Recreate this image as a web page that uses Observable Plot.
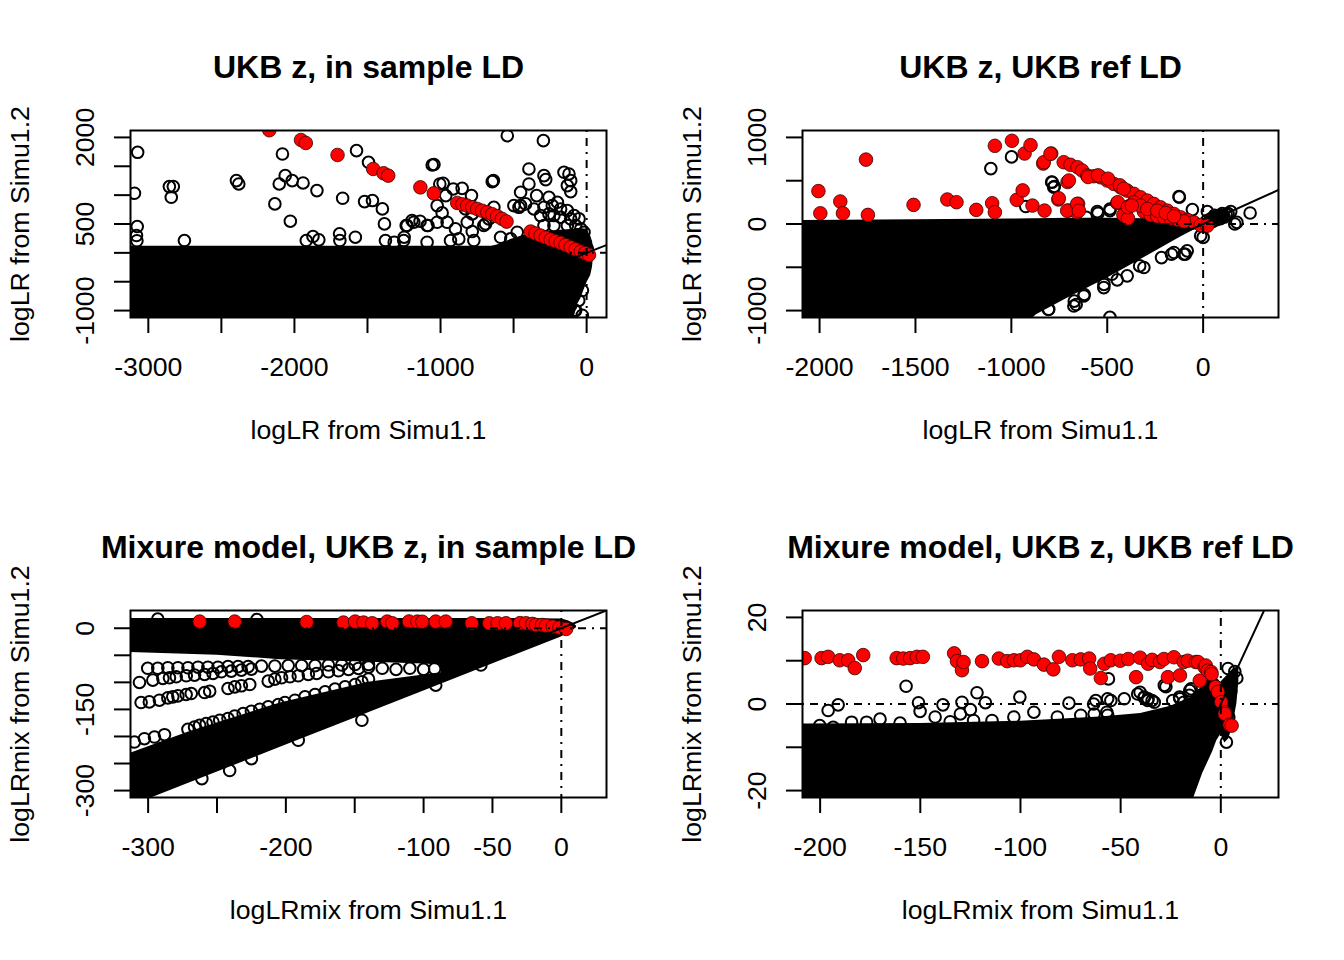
<!DOCTYPE html>
<html>
<head>
<meta charset="utf-8">
<script src="https://cdn.jsdelivr.net/npm/d3@7"></script>
<script src="https://cdn.jsdelivr.net/npm/@observablehq/plot@0.6"></script>
<style>
  html, body { margin: 0; padding: 0; background: white; }
  #grid { width: 1344px; height: 960px; display: grid; grid-template-columns: 672px 672px; grid-template-rows: 480px 480px; }
  #grid > div { width: 672px; height: 480px; overflow: visible; }
</style>
</head>
<body>
<div id="grid"><div id="p1"></div><div id="p2"></div><div id="p3"></div><div id="p4"></div></div>
<script>
// ---------------- Panel 1: UKB z, in sample LD ----------------
const p1Title = "UKB z, in sample LD";
const p1XLab = "logLR from Simu1.1";
const p1YLab = "logLR from Simu1.2";
const p1XDomain = [-3122, 136];
const p1YDomain = [-1120, 2120];
const p1XTicks = [-3000, -2500, -2000, -1500, -1000, -500, 0];
const p1XLabeled = [-3000, -2000, -1000, 0];
const p1YTicks = [-1000, -500, 0, 500, 1000, 1500, 2000];
const p1YLabeled = [-1000, 500, 2000];
const p1MassX  = [-3122, -650, -612, -520, -430, -315, -178, -86, -63, -40, -6, 5, 28, 40, 46];
const p1MassLo = [-1130, -1130, -1130, -1130, -1130, -1130, -1130, -1130, -900, -796, -566, -500, -393, -250, -100];
const p1MassHi = [115, 115, 135, 230, 300, 350, 390, 410, 420, 420, 410, 390, 280, 200, 100];
const p1Black = [
  [-3073,1742],[-3095,1033],[-3076,456],[-3081,300],[-3078,210],
  [-2856,1148],[-2829,1148],[-2843,963],[-2753,213],[-2397,1252],[-2381,1194],
  [-2134,848],[-2082,1713],[-2063,1338],[-2104,1194],[-2015,1252],[-1941,1211],
  [-2028,548],[-1846,1079],[-1919,213],[-1873,283],[-1833,225],
  [-1691,329],[-1689,213],[-1670,946],[-1575,1771],[-1493,1569],[-1520,888],[-1466,906],
  [-1398,762],[-1384,502],[-1377,213],[-1583,271],[-1317,185],[-1249,271],[-1235,473],
  [-1195,560],[-1140,548],[-1086,473],[-1005,1194],[-964,992],[-638,1252],
  [-543,2030],[-296,1944],[-1057,1523],[-1045,1530],[-646,1234],[-982,1205],[-913,1107],
  [-852,1118],[-788,992],[-1023,818],[-989,692],[-955,530],[-1229,473],[-1183,530],
  [-1092,473],[-1023,530],[-783,369],[-704,473],[-635,789],[-772,213],
  [-395,1454],[-292,1338],[-280,1269],[-155,1396],[-121,1367],[-109,1251],[-132,1165],[-109,1061],
  [-452,1049],[-395,1194],[-342,992],[-418,848],[-452,818],[-498,818],
  [-258,962],[-200,876],[-178,761],[-132,732],[-86,646],[-52,588],[-224,646],
  [-40,415],[-18,242],[5,69],[-475,357],[-520,242],[-589,270],[-463,789],
  [-829,761],[-783,675],[-669,588],[-692,502],[-817,530],[-898,415],
  [-1252,213],[-1092,184],[-932,213],[-875,242],
  [-361,761],[-292,789],[-235,818],[-315,646],[-258,675],[-178,616],[-109,588],
  [-75,472],[-132,472],[-224,472],[-292,472],[-18,357],
  [-178,-796],[-109,-912],[-29,-652],[-75,-999],[-155,-999],[-81,-998],[-54,-825],[-163,-998],[-30,-1080]
];
const p1Red = [
  [-2172,2125],[-1955,1956],[-1922,1904],[-1705,1696],[-1461,1454],[-1390,1379],[-1358,1338],
  [-1138,1135],[-1046,1031],[-886,865],[-850,840],[-817,818],[-783,790],[-749,761],[-715,730],
  [-680,703],[-646,670],[-612,634],[-580,590],[-548,542],
  [-383,369],[-350,335],[-315,299],[-280,265],[-246,230],[-212,200],[-178,173],[-144,135],
  [-109,97],[-75,60],[-40,23],[-10,-5],[16,-35]
];

// ---------------- Panel 2: UKB z, UKB ref LD ----------------
const p2Title = "UKB z, UKB ref LD";
const p2XLab = "logLR from Simu1.1";
const p2YLab = "logLR from Simu1.2";
const p2XDomain = [-2089, 393];
const p2YDomain = [-1080, 1080];
const p2XTicks = [-2000, -1500, -1000, -500, 0];
const p2XLabeled = [-2000, -1500, -1000, -500, 0];
const p2YTicks = [-1000, -500, 0, 500, 1000];
const p2YLabeled = [-1000, 0, 1000];
const p2MassX  = [-2089, -1500, -1000, -890, -869, -703, -496, -290, -124, -41, 0, 30, 80, 125];
const p2MassLo = [-1090, -1090, -1090, -1090, -1047, -853, -620, -368, -160, -60, -15, 0, 40, 100];
const p2MassHi = [40, 48, 58, 60, 60, 65, 65, 60, 45, 30, 40, 100, 130, 125];
const p2Black = [
  [-1107,640],[-999,775],[-790,485],[-776,434],[-925,202],[-548,124],[-486,174],[-610,78],
  [-787,482],[-779,424],[-552,143],[-486,154],
  [-124,310],[-126,316],[-56,166],[22,143],[144,143],[245,127],[176,19],[83,97],[165,0],
  [-476,-581],[-517,-698],[-620,-814],[-662,-930],[-672,-891],[-807,-988],[-331,-484],
  [-165,-349],[-93,-349],[-83,-310],[-217,-388],[0,-155],[-486,-1078],[-100,-348],[-152,-329],
  [-309,-503],[-396,-599],[-448,-645],[-518,-735],[-622,-831],[-674,-947],[-805,-985],[-13,-136],
  [20,40],[40,60],[60,80],[80,70],[100,100],[120,110],[30,10],[50,30],[70,50],[90,60],[110,80],
  [60,100],[100,120],[130,120]
];
const p2Red = [
  [-2006,380],[-1996,124],[-1892,260],[-1878,124],[-1758,744],[-1748,105],[-1510,221],
  [-1334,283],[-1286,252],[-1183,163],[-1100,240],[-1086,136],[-1086,903],[-997,961],
  [-931,814],[-900,911],[-972,279],[-941,388],[-890,213],[-827,155],[-834,698],[-792,814],
  [-755,283],[-707,485],[-703,155],[-652,233],[-658,136],[-831,714],[-796,811],
  [-727,714],[-692,684],[-655,656],[-631,618],[-604,560],[-570,552],[-535,540],[-500,502],
  [-466,463],[-431,424],[-396,386],[-361,348],[-326,308],[-291,270],[-257,232],[-222,192],
  [-187,154],[-152,116],[-117,76],[-82,46],[-48,19],[-13,-12],[22,-20],
  [-753,297],[-709,154],[-657,232],[-648,154],[-448,243],[-387,204],[-416,104],[-392,65],
  [-309,143],[-274,104],[-239,88],[-204,76],[-169,65],[-134,50],[-100,30],[-361,250],
  [-326,212],[-291,174],[-239,154],[-195,127],[-152,88],[-700,502],[-600,543],[-548,562],
  [-496,523],[-445,252],[-393,194],[-372,213],[-434,446],[-414,407]
];

// ---------------- Panel 3: Mixure model, UKB z, in sample LD ----------------
const p3Title = "Mixure model, UKB z, in sample LD";
const p3XLab = "logLRmix from Simu1.1";
const p3YLab = "logLRmix from Simu1.2";
const p3XDomain = [-312.8, 32.8];
const p3YDomain = [-312.8, 32.8];
const p3XTicks = [-300, -250, -200, -150, -100, -50, 0];
const p3XLabeled = [-300, -200, -100, -50, 0];
const p3YTicks = [-300, -250, -200, -150, -100, -50, 0];
const p3YLabeled = [-300, -150, 0];
// top band + right solid part
const p3MassX  = [-313, -250, -204, -150, -100, -88, -86, -40, 0, 5, 9, 11];
const p3MassLo = [-45, -50, -58, -62, -66, -68, -102, -56, -16, -9, -3, 1];
const p3MassHi = [18, 18, 18, 18, 18, 18, 18, 18, 17, 14, 9, 4];
// lower wedge along the diagonal
const p3WedgeX  = [-315, -271, -204, -140, -86];
const p3WedgeLo = [-331, -287, -220, -156, -102];
const p3WedgeHi = [-233, -192, -138, -100, -82];
const p3Black = [
  [-293,17],[-221,16],
  [-300.3,-74],[-293.0,-74],[-285.7,-73],[-278.4,-73],[-271.1,-73],[-263.8,-72],[-256.6,-72],
  [-249.3,-72],[-242.0,-71],[-234.7,-71],[-227.4,-71],[-217.7,-70],[-208.0,-70],[-198.3,-69],
  [-188.5,-69],[-178.8,-69],[-169.1,-68],[-159.4,-68],[-149.7,-67],[-140.0,-67],
  [-306.3,-100.2],[-296.6,-95.9],[-289.3,-92.8],[-284.5,-91.6],[-279.6,-89.7],[-272.3,-87.9],
  [-266.3,-86.6],[-259.0,-85.4],[-252.9,-83.5],[-246.8,-80.5],[-239.6,-79.2],[-232.3,-77.4],
  [-225.0,-75.5],
  [-212.8,-97.8],[-208.0,-94.1],[-203.1,-91.6],[-197.0,-89.7],[-191.0,-87.9],[-183.7,-85.4],
  [-177.6,-83.5],[-169.1,-80.5],[-161.8,-78.6],[-154.5,-76.1],[-147.3,-74.3],[-140.0,-71.8],
  [-130,-74],[-120,-76],[-110,-74],[-100,-76],[-92,-75],
  [-305.1,-137.3],[-299.1,-136.1],[-291.8,-133.0],[-285.7,-128.7],[-282.1,-126.8],[-278.4,-125.0],
  [-272.4,-122.5],[-268.7,-120.7],[-259.0,-118.8],[-255.3,-116.3],[-242.0,-111.4],[-237.1,-108.3],
  [-232.3,-106.4],[-226.2,-104.0],
  [-310.0,-210.3],[-302.7,-204.1],[-295.4,-201.1],[-288.1,-196.7],
  [-271.1,-186.8],[-266.3,-182.5],[-262.6,-179.4],[-257.8,-176.3],[-252.9,-173.2],[-248.0,-170.1],
  [-242.0,-167.0],[-237.1,-162.1],[-231.0,-157.8],[-225.0,-153.4],[-218.9,-149.7],[-212.8,-145.4],
  [-205.5,-141.1],[-200.7,-137.3],[-193.4,-133.0],[-186.1,-126.8],[-178.8,-122.5],[-171.5,-117.6],
  [-164.3,-112.6],[-157.0,-108.3],[-149.7,-104.0],[-144.8,-99.0],[-140.0,-94.1],
  [-144.8,-170],[-240.8,-263],[-191,-207],[-225,-241],[-261,-278],[-91.2,-105.2],[-58.4,-68]
];
const p3Red = [
  [-262.6,12.3],[-237.1,12.3],[-184.9,11.5],[-158.2,10.5],[-149.7,12.3],[-143.6,10.5],
  [-137.3,9.2],[-126.4,12.3],[-122.7,9.2],[-110.6,12.5],[-104.5,12.3],[-100.9,12],
  [-91.2,12.3],[-83.9,12.3],[-65.0,9.2],[-52.3,9.2],[-46.3,9.2],[-40.2,9.2],[-30,9.5],
  [-25.6,9.2],[-21,8],[-18.4,6.1],[-14,6],[-11.1,4.8],[-6.2,3.0],[-1.4,1.1],[3.5,-1.3]
];

// ---------------- Panel 4: Mixure model, UKB z, UKB ref LD ----------------
const p4Title = "Mixure model, UKB z, UKB ref LD";
const p4XLab = "logLRmix from Simu1.1";
const p4YLab = "logLRmix from Simu1.2";
const p4XDomain = [-208.8, 28.8];
const p4YDomain = [-21.6, 21.6];
const p4XTicks = [-200, -150, -100, -50, 0];
const p4XLabeled = [-200, -150, -100, -50, 0];
const p4YTicks = [-20, -10, 0, 10, 20];
const p4YLabeled = [-20, 0, 20];
const p4MassX  = [-209, -150, -100, -60, -40, -25, -15, -13.5, -9, -6, -4, -2, 0, 2, 4, 6, 8, 9];
const p4MassLo = [-22, -22, -22, -22, -22, -22, -22, -21.7, -16, -13, -11, -8.5, -7, -9, -8, -5, 0, 5];
const p4MassHi = [-4.6, -4.5, -4.0, -3.0, -2.2, -0.5, 1.5, 2.5, 4, 6, 7, 6, 5, 6, 7, 8, 8.5, 8];
const p4Black = [
  [-157.1,4.1],[-191.0,-0.2],[-196.0,-1.5],[-150.9,0.3],[-150.1,-1.7],[-142.6,-3.0],[-138.7,-0.2],
  [-129.2,0.4],[-130.0,-2.3],[-125.0,-1.3],[-121.7,2.6],[-117.5,0.3],[-123.4,-3.8],[-100.3,1.6],
  [-75.8,0.2],[-63.5,0.0],[-62.4,0.8],[-56.5,1.2],[-56.9,-1.9],
  [-184.3,-4.2],[-170.1,-3.5],[-193.5,-5.4],[-200.2,-5.0],[-103.3,-3.0],[-93.3,-1.9],[-81.6,-3.0],
  [-69.9,-2.6],[-63.2,-2.3],[-56.5,-2.6],[-176.8,-4.2],[-160.1,-4.4],[-135.1,-4.1],[-114.2,-3.8],
  [-56.1,5.8],[-40.3,2.7],[-38.3,1.5],[-36.3,1.2],[-34.3,0.8],[-27.4,4.0],[-15.5,3.1],[-20.4,1.2],
  [-18.5,0.4],[-28.2,4.3],[-38.2,1.6],[-41.5,2.3],[-36.5,0.8],[-33.2,0.4],[-54.9,0.8],[-48.2,1.2],
  [-24.0,0.8],[-20.6,1.6],[-15.6,2.0],[-14.8,3.5],[3.6,8.2],[2.8,-8.8],[7,7.5],[8,6],[5,3],[4,-3]
];
const p4Red = [
  [-207.7,10.6],[-199.3,10.6],[-196,10.9],[-190.2,10.1],[-186,10.1],[-182.7,8.3],[-178.5,11.3],
  [-161.8,10.6],[-158.5,10.5],[-155.1,10.6],[-151.7,10.9],[-148.7,10.9],
  [-133.1,11.7],[-131.7,9.9],[-129.2,7.8],[-128.4,9.7],[-119.2,9.9],
  [-110.8,10.5],[-106.6,9.9],[-103.3,10.1],[-100,10.1],[-96.6,10.9],[-93.3,10.3],
  [-88.3,9.1],[-83.6,8.0],[-80.8,10.9],
  [-74.1,10.1],[-69.9,10.3],[-65.7,10.5],[-65.2,8.2],[-59.9,6.0],[-58.2,9.3],[-54.9,10.1],
  [-50.2,10.0],[-46.2,10.4],[-42.3,6.2],[-40.3,10.7],[-36.3,9.3],[-34.3,10.2],[-30.4,9.7],
  [-28.4,10.4],[-26.4,6.2],[-23.4,10.8],[-20.4,6.6],[-18.5,9.7],[-16.5,10.0],[-12.5,9.7],
  [-11.4,9.7],[-10.5,5.4],[-8.1,8.5],[-7.5,8.9],[-6.5,7.7],[-4.8,7.4],[-4.6,6.9],[-2.6,3.9],
  [-1.4,2.8],[0.25,0.45],[1.9,-1.9],[2.0,-2.3],[4.4,-4.8],[5.4,-5.0]
];

// reference lines: abline(a, b), h = 0, v = 0
const diagLine = {a: 0, b: 1};
const hLines = [0];
const vLines = [0];

const FONT = "'Liberation Sans', Arial, Helvetica, sans-serif";
const DASHDOT = "2,6,8,6";

function rows(xs, los, his) { return xs.map((x, i) => ({x, lo: los[i], hi: his[i]})); }

function panel(cfg) {
  const [x0, x1] = cfg.xDomain;
  const diag = [x0, x1].map(x => ({x, y: diagLine.a + diagLine.b * x}));
  const massMarks = cfg.masses.map(m => Plot.areaY(m, {x: "x", y1: "lo", y2: "hi", fill: "black", clip: true}));
  const txt = {textAnchor: "middle", lineAnchor: "middle", fill: "black"};
  return Plot.plot({
    width: 672, height: 480,
    marginLeft: 130, marginRight: 66, marginTop: 130, marginBottom: 163,
    x: {domain: cfg.xDomain, label: null},
    y: {domain: cfg.yDomain, label: null},
    style: {fontFamily: FONT, background: "white", overflow: "visible", color: "black"},
    marks: [
      ...massMarks,
      Plot.dot(cfg.black, {x: d => d[0], y: d => d[1], r: 5.8, stroke: "black", strokeWidth: 2, fill: "none", clip: true}),
      Plot.dot(cfg.red, {x: d => d[0], y: d => d[1], r: 6.8, fill: "#ff0000", stroke: "#3a0000", strokeWidth: 0.8, clip: true}),
      Plot.ruleX(vLines, {stroke: "black", strokeWidth: 2, strokeDasharray: DASHDOT, clip: true}),
      Plot.ruleY(hLines, {stroke: "black", strokeWidth: 2, strokeDasharray: DASHDOT, clip: true}),
      Plot.line(diag, {x: "x", y: "y", stroke: "black", strokeWidth: 2, clip: true}),
      Plot.frame({stroke: "black", strokeWidth: 2}),
      Plot.axisX({ticks: cfg.xTicks, tickSize: 16, tickFormat: () => "", strokeWidth: 2, label: null}),
      Plot.axisY({ticks: cfg.yTicks, tickSize: 16, tickFormat: () => "", strokeWidth: 2, label: null}),
      Plot.text(cfg.xTicks, {...txt, x: d => d, text: d => cfg.xLabeled.includes(d) ? String(d) : "",
        frameAnchor: "bottom", dy: 50, fontSize: 26.7}),
      Plot.text(cfg.yTicks, {...txt, y: d => d, text: d => cfg.yLabeled.includes(d) ? String(d) : "",
        frameAnchor: "left", dx: -45, rotate: -90, fontSize: 26.7}),
      Plot.text([cfg.xlab], {...txt, frameAnchor: "bottom", dy: 113, fontSize: 26.7}),
      Plot.text([cfg.ylab], {...txt, frameAnchor: "left", dx: -110, rotate: -90, fontSize: 26.7}),
      Plot.text([cfg.title], {...txt, frameAnchor: "top", dy: -63, fontSize: 32, fontWeight: "bold"})
    ]
  });
}

document.getElementById("p1").append(panel({
  title: p1Title, xlab: p1XLab, ylab: p1YLab, xDomain: p1XDomain, yDomain: p1YDomain,
  xTicks: p1XTicks, xLabeled: p1XLabeled, yTicks: p1YTicks, yLabeled: p1YLabeled,
  masses: [rows(p1MassX, p1MassLo, p1MassHi)], black: p1Black, red: p1Red
}));
document.getElementById("p2").append(panel({
  title: p2Title, xlab: p2XLab, ylab: p2YLab, xDomain: p2XDomain, yDomain: p2YDomain,
  xTicks: p2XTicks, xLabeled: p2XLabeled, yTicks: p2YTicks, yLabeled: p2YLabeled,
  masses: [rows(p2MassX, p2MassLo, p2MassHi)], black: p2Black, red: p2Red
}));
document.getElementById("p3").append(panel({
  title: p3Title, xlab: p3XLab, ylab: p3YLab, xDomain: p3XDomain, yDomain: p3YDomain,
  xTicks: p3XTicks, xLabeled: p3XLabeled, yTicks: p3YTicks, yLabeled: p3YLabeled,
  masses: [rows(p3MassX, p3MassLo, p3MassHi), rows(p3WedgeX, p3WedgeLo, p3WedgeHi)], black: p3Black, red: p3Red
}));
document.getElementById("p4").append(panel({
  title: p4Title, xlab: p4XLab, ylab: p4YLab, xDomain: p4XDomain, yDomain: p4YDomain,
  xTicks: p4XTicks, xLabeled: p4XLabeled, yTicks: p4YTicks, yLabeled: p4YLabeled,
  masses: [rows(p4MassX, p4MassLo, p4MassHi)], black: p4Black, red: p4Red
}));
</script>
</body>
</html>
